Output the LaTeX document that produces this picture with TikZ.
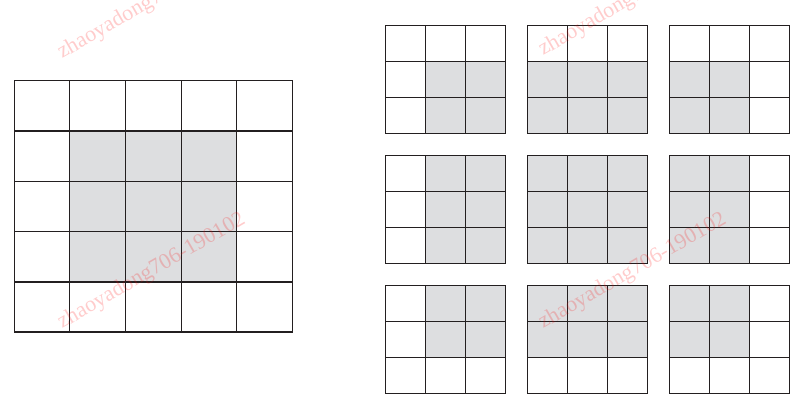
\documentclass[tikz,border=0pt]{standalone}
\usepackage{fontspec}
\newfontfamily\wmfont{Liberation Serif}
\definecolor{gridline}{HTML}{231F20}
\definecolor{cellgray}{HTML}{DDDEE0}
\tikzset{
  gridstroke/.style={draw=gridline, line width=1.2pt, line cap=rect},
  shade cell/.style={fill=cellgray},
  watermark/.style={anchor=base west, rotate=30, inner sep=0pt, text=red, text opacity=0.2, font=\wmfont\fontsize{22}{22}\selectfont}
}
\begin{document}
\begin{tikzpicture}[x=1pt,y=-1pt]
\useasboundingbox (0,0) rectangle (807,404);
\clip (0,0) rectangle (807,404);
\fill[white] (0,0) rectangle (807,404);
% big grid
\fill[shade cell] (69.5,131) rectangle (236.5,282);
\foreach \x in {14.5,69.5,125.5,181.5,236.5,292.5}
  \draw[gridstroke] (\x,80.5) -- (\x,332);
\foreach \y in {80.5,131,181.5,231.5,282,332}
  \draw[gridstroke] (14.5,\y) -- (292.5,\y);
% small grids
\foreach \i/\ca/\cb in {0/1/3,1/0/3,2/0/2}{
  \foreach \j/\ra/\rb in {0/1/3,1/0/3,2/0/2}{
    \begin{scope}[shift={(385.5+142*\i,25.5+130*\j)}]
      \fill[shade cell] (40*\ca,36*\ra) rectangle (40*\cb,36*\rb);
      \foreach \k in {0,1,2,3}{
        \draw[gridstroke] (40*\k,0) -- (40*\k,108);
        \draw[gridstroke] (0,36*\k) -- (120,36*\k);
      }
    \end{scope}
  }
}
% watermarks
\node[watermark] (wm1) at (62,59) {zhaoyadong706-190102};
\node[watermark] (wm2) at (62,329) {zhaoyadong706-190102};
\node[watermark] (wm3) at (543,56) {zhaoyadong706-190102};
\node[watermark] (wm4) at (543,329) {zhaoyadong706-190102};
\end{tikzpicture}
\end{document}
